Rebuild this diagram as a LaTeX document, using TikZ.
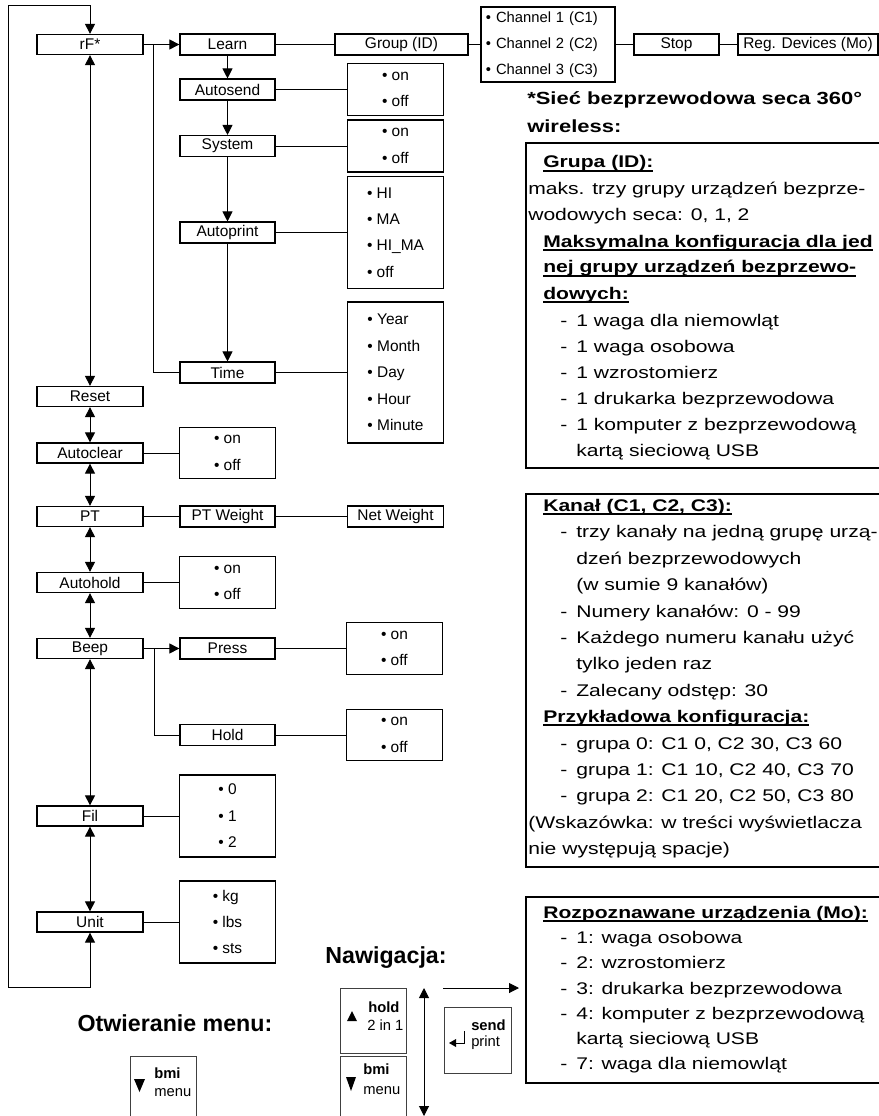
\documentclass[tikz,border=0pt]{standalone}
\usepackage{fontspec}
\setmainfont{Liberation Sans}
\newfontfamily\panelfont[FakeStretch=1.25]{Liberation Sans}
\usetikzlibrary{arrows.meta}
\newcommand{\ulin}[1]{\setbox0\hbox{#1}\rlap{\rule[-2.8pt]{\wd0}{1.1pt}}\box0}

\begin{document}
\begin{tikzpicture}[
    x=0.025cm, y=-0.025cm,
    menu/.style={rectangle, draw=black, line width=0.9pt, minimum width=2.65cm, minimum height=0.5cm, inner sep=0pt, font=\fontsize{11}{12}\selectfont},
    sub/.style={menu, minimum width=2.375cm, minimum height=0.52cm},
    opt/.style={rectangle, draw=black, line width=0.9pt, minimum width=2.4cm, inner sep=0pt, align=left, font=\fontsize{11}{18.8}\selectfont},
    conn/.style={line width=0.7pt},
    arrow/.style={conn, -{Triangle[length=2.5mm, width=2.5mm]}},
    dbl/.style={conn, {Triangle[length=2.5mm, width=2.5mm]}-{Triangle[length=2.5mm, width=2.5mm]}},
    panel/.style={draw=black, line width=1.4pt},
    ptxt/.style={anchor=base west, inner sep=0pt, font=\panelfont\fontsize{12}{14}\selectfont},
    phead/.style={ptxt, font=\panelfont\bfseries\fontsize{12}{14}\selectfont},
    title/.style={font=\bfseries\fontsize{16.5}{18}\selectfont},
    keybox/.style={draw=black!75, line width=0.6pt},
    keytxt/.style={anchor=base west, inner sep=0pt, font=\fontsize{10.5}{12}\selectfont}
]
\useasboundingbox (0,0) rectangle (879,1116);
% ==========================================
% MENU GLOWNE
% ==========================================
\node[menu] (rf) at (90,44.5) {rF*};
\node[menu] (reset) at (90,396.5) {Reset};
\node[menu] (aclear) at (90,453) {Autoclear};
\node[menu] (pt) at (90,516.5) {PT};
\node[menu] (ahold) at (90,582.5) {Autohold};
\node[menu] (beep) at (90,648.5) {Beep};
\node[menu] (fil) at (90,816) {Fil};
\node[menu] (unit) at (90,922) {Unit};

\foreach \i/\j in {rf/reset,reset/aclear,aclear/pt,pt/ahold,ahold/beep,beep/fil,fil/unit} {
    \draw[dbl] (\i) -- (\j);
}

% petla unit -> rF*
\coordinate (lt) at (8,5);
\coordinate (lb) at (8,987);
\draw[arrow] (lb) -- (lt) -| (rf.north);
\draw[arrow] (lb) -| (unit.south);

% ==========================================
% rF* (siec bezprzewodowa)
% ==========================================
\node[sub] (learn) at (227.5,44.5) {Learn};
\node[sub] (asend) at (227.5,89.5) {Autosend};
\node[sub] (system) at (227.5,146) {System};
\node[sub] (aprint) at (227.5,232.5) {Autoprint};
\node[sub] (time) at (227.5,372.5) {Time};
\node[sub, minimum width=3.325cm] (group) at (401.5,44.5) {Group (ID)};
\node[opt, minimum width=3.35cm, minimum height=1.875cm, text width=3.1cm, font=\fontsize{10.5}{18.3}\selectfont] (chan) at (548,44.5) {\textbullet\ Channel 1 (C1)\\\textbullet\ Channel 2 (C2)\\\textbullet\ Channel 3 (C3)};
\node[sub, minimum width=2.125cm] (stop) at (676.5,44.5) {Stop};
\node[sub, minimum width=3.5cm] (regdev) at (808,44.5) {Reg. Devices (Mo)};

\node[opt, minimum height=1.3cm] (asendopt) at (395.5,89.5) {\textbullet\ on\\\textbullet\ off};
\node[opt, minimum height=1.3cm] (systemopt) at (395.5,146) {\textbullet\ on\\\textbullet\ off};
\node[opt, minimum height=2.8cm] (aprintopt) at (395.5,232.5) {\textbullet\ HI\\\textbullet\ MA\\\textbullet\ HI\_MA\\\textbullet\ off};
\node[opt, minimum height=3.525cm] (timeopt) at (395.5,372.5) {\textbullet\ Year\\\textbullet\ Month\\\textbullet\ Day\\\textbullet\ Hour\\\textbullet\ Minute};

\draw[arrow] (rf) -- (learn);
\foreach \i/\j in {learn/asend,asend/system,system/aprint,aprint/time} {
    \draw[arrow] (\i) -- (\j);
}
\coordinate (br1) at (153,44.5);
\draw[conn] (br1) |- (time.west);

% ==========================================
% POZOSTALE USTAWIENIA
% ==========================================
\node[opt, minimum height=1.275cm] (aclearopt) at (227.5,453) {\textbullet\ on\\\textbullet\ off};
\node[sub] (ptw) at (227.5,516.5) {PT Weight};
\node[sub, minimum width=2.4cm] (netw) at (395.5,516.5) {Net Weight};
\node[opt, minimum height=1.3cm] (aholdopt) at (227.5,582.5) {\textbullet\ on\\\textbullet\ off};
\node[sub] (press) at (227.5,648.5) {Press};
\node[sub] (hold) at (227.5,735) {Hold};
\node[opt, minimum height=1.3cm] (pressopt) at (394.5,648.5) {\textbullet\ on\\\textbullet\ off};
\node[opt, minimum height=1.275cm] (holdopt) at (394.5,735) {\textbullet\ on\\\textbullet\ off};
\node[opt, minimum height=2.05cm] (filopt) at (227.5,816) {\textbullet\ 0\\\textbullet\ 1\\\textbullet\ 2};
\node[opt, minimum height=2.05cm] (unitopt) at (227.5,922) {\textbullet\ kg\\\textbullet\ lbs\\\textbullet\ sts};

\draw[arrow] (beep) -- (press);
\coordinate (br2) at (154,648.5);
\draw[conn] (br2) |- (hold.west);

\foreach \i/\j in {learn/group,group/chan,chan/stop,stop/regdev,asend/asendopt,system/systemopt,aprint/aprintopt,time/timeopt,aclear/aclearopt,pt/ptw,ptw/netw,ahold/aholdopt,press/pressopt,hold/holdopt,fil/filopt,unit/unitopt} {
    \draw[conn] (\i) -- (\j);
}

% ==========================================
% OPISY PO PRAWEJ
% ==========================================
\node[phead, font=\panelfont\bfseries\fontsize{12.5}{14}\selectfont] (wl1) at (527,105) {*Sieć bezprzewodowa seca 360°};
\node[phead, font=\panelfont\bfseries\fontsize{12.5}{14}\selectfont] (wl2) at (527,133) {wireless:};

% Grupa (ID)
\draw[panel] (526,143) rectangle (885,468);
\node[phead] (g1) at (543,168) {\ulin{Grupa (ID):}};
\node[ptxt] (g2) at (528,195) {maks. trzy grupy urządzeń bezprze-};
\node[ptxt] (g3) at (528,221) {wodowych seca: 0, 1, 2};
\node[phead] (g4) at (543,247) {\ulin{Maksymalna konfiguracja dla jed}};
\node[phead] (g5) at (543,273) {\ulin{nej grupy urządzeń bezprzewo-}};
\node[phead] (g6) at (543,299) {\ulin{dowych:}};
\foreach \y in {326,352,378,404,430} {
    \node[ptxt] (gd\y) at (560,\y) {-};
}
\node[ptxt] (g7) at (576,326) {1 waga dla niemowląt};
\node[ptxt] (g8) at (576,352) {1 waga osobowa};
\node[ptxt] (g9) at (576,378) {1 wzrostomierz};
\node[ptxt] (g10) at (576,404) {1 drukarka bezprzewodowa};
\node[ptxt] (g11) at (576,430) {1 komputer z bezprzewodową};
\node[ptxt] (g12) at (576,456) {kartą sieciową USB};

% Kanal
\draw[panel] (526,494) rectangle (885,867);
\node[phead] (k1) at (543,511) {\ulin{Kanał (C1, C2, C3):}};
\foreach \y in {537,617,643,696,749,775,801} {
    \node[ptxt] (kd\y) at (560,\y) {-};
}
\node[ptxt] (k2) at (576,537) {trzy kanały na jedną grupę urzą-};
\node[ptxt] (k3) at (576,564) {dzeń bezprzewodowych};
\node[ptxt] (k4) at (576,590) {(w sumie 9 kanałów)};
\node[ptxt] (k5) at (576,617) {Numery kanałów: 0 - 99};
\node[ptxt] (k6) at (576,643) {Każdego numeru kanału użyć};
\node[ptxt] (k7) at (576,669) {tylko jeden raz};
\node[ptxt] (k8) at (576,696) {Zalecany odstęp: 30};
\node[phead] (k9) at (543,722) {\ulin{Przykładowa konfiguracja:}};
\node[ptxt] (k10) at (576,749) {grupa 0: C1 0, C2 30, C3 60};
\node[ptxt] (k11) at (576,775) {grupa 1: C1 10, C2 40, C3 70};
\node[ptxt] (k12) at (576,801) {grupa 2: C1 20, C2 50, C3 80};
\node[ptxt] (k13) at (528,828) {(Wskazówka: w treści wyświetlacza};
\node[ptxt] (k14) at (528,854) {nie występują spacje)};

% Rozpoznawane urzadzenia
\draw[panel] (526,897) rectangle (885,1083);
\node[phead] (r1) at (543,918) {\ulin{Rozpoznawane urządzenia (Mo):}};
\foreach \y in {943,968,994,1019,1069} {
    \node[ptxt] (rd\y) at (560,\y) {-};
}
\node[ptxt] (r2) at (576,943) {1: waga osobowa};
\node[ptxt] (r3) at (576,968) {2: wzrostomierz};
\node[ptxt] (r4) at (576,994) {3: drukarka bezprzewodowa};
\node[ptxt] (r5) at (576,1019) {4: komputer z bezprzewodową};
\node[ptxt] (r6) at (576,1044) {kartą sieciową USB};
\node[ptxt] (r7) at (576,1069) {7: waga dla niemowląt};

% ==========================================
% PRZYCISKI
% ==========================================
\node[title] (otw) at (175,1023) {Otwieranie menu:};
\draw[keybox] (130,1056) rectangle (196,1130);
\fill (134,1079) -- (145,1079) -- (139.5,1092) -- cycle;
\node[keytxt, font=\bfseries\fontsize{10.5}{12}\selectfont] (bmi1) at (154,1078) {bmi};
\node[keytxt] (menu1) at (154,1096) {menu};

\node[title] (nav) at (386,958) {Nawigacja:};
\draw[keybox] (340,988) rectangle (406,1053);
\fill (347,1021) -- (357,1021) -- (352,1011) -- cycle;
\node[keytxt, font=\bfseries\fontsize{10.5}{12}\selectfont] (hold2) at (368,1012) {hold};
\node[keytxt] (twoin) at (367,1030) {2 in 1};
\draw[keybox] (340,1056) rectangle (406,1130);
\fill (346,1077) -- (356,1077) -- (351,1091) -- cycle;
\node[keytxt, font=\bfseries\fontsize{10.5}{12}\selectfont] (bmi2) at (363,1074) {bmi};
\node[keytxt] (menu2) at (363,1094) {menu};
\draw[keybox] (444,1007) rectangle (511,1073);
\node[keytxt, font=\bfseries\fontsize{10.5}{12}\selectfont] (send) at (471,1030) {send};
\node[keytxt] (print) at (471,1046) {print};
\draw[conn, -{Triangle[length=1.8mm, width=2mm]}] (464,1031) -- (464,1043) -- (449,1043);

\coordinate (vtop) at (424,988);
\coordinate (vbot) at (424,1116);
\draw[dbl] (vtop) -- (vbot);
\coordinate (hl) at (443,988);
\coordinate (hr) at (519,988);
\draw[arrow] (hl) -- (hr);

\end{tikzpicture}
\end{document}
